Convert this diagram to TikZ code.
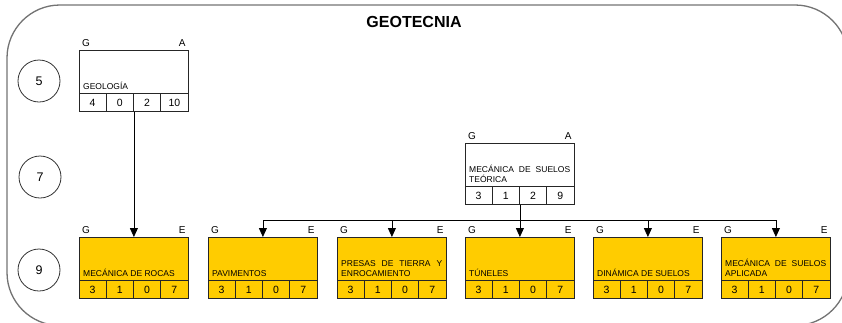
\documentclass[tikz,border=0pt]{standalone}
\usepackage{fontspec}
\setmainfont{Liberation Sans}
\usetikzlibrary{arrows.meta,calc}
\definecolor{cyellow}{HTML}{FFCC00}
\tikzset{
  frame/.style={draw=black!55, line width=1.3pt, rounded corners=53pt},
  boxline/.style={draw=black!85, line width=0.8pt},
  plainbox/.style={boxline, fill=white},
  yelbox/.style={boxline, fill=cyellow},
  letter/.style={font=\fontsize{10}{10}\selectfont, inner sep=0pt},
  num/.style={font=\fontsize{10.5}{12}\selectfont, inner sep=0pt},
  ctitle/.style={font=\fontsize{8.5}{10}\selectfont, inner sep=0pt},
  circ/.style={circle, draw=black!80, line width=0.8pt, minimum size=42pt, inner sep=0pt, font=\fontsize{12.5}{14}\selectfont},
  arr/.style={draw=black, line width=0.8pt, -{Triangle[length=9pt,width=8pt]}},
}
\newcommand\coursebox[6]{%
  \node[#4, anchor=north west, minimum width=109pt, minimum height=61pt, inner sep=0pt] (#1) at (#2,#3) {};
  \node[letter, anchor=base west] (#1-l) at ($(#1.north west)+(3,-4)$) {G};
  \node[letter, anchor=base east] (#1-r) at ($(#1.north east)+(-3,-4)$) {#5};
  \draw[boxline] ($(#1.south west)+(0,-18)$) -- ($(#1.south east)+(0,-18)$);
  \foreach \k in {1,2,3} {\draw[boxline] ($(#1.south west)+(\k*27.25,0)$) -- ++(0,-18);}
  \foreach \n [count=\k] in {#6} {\node[num] (#1-n\k) at ($(#1.south west)+(\k*27.25-13.625,-9)$) {\n};}
}
\begin{document}
\begin{tikzpicture}[x=1pt,y=-1pt]
\useasboundingbox (0,0) rectangle (842,322);
\begin{scope}
  \clip (0,0) rectangle (842,322);
  \draw[frame] (7,5) rectangle (848,325.5);
\end{scope}
\node[font=\bfseries\fontsize{16}{18}\selectfont] (title) at (414,22) {GEOTECNIA};
\node[circ] (c5) at (39,81) {5};
\node[circ] (c7) at (40,177) {7};
\node[circ] (c9) at (39,270) {9};
% semester 5
\coursebox{geo}{79}{50}{plainbox}{A}{4,0,2,10}
\node[ctitle, anchor=base west] (geo-t) at ($(geo.south west)+(4,-22)$) {GEOLOGÍA};
% semester 7
\coursebox{teo}{465}{143}{plainbox}{A}{3,1,2,9}
\node[ctitle, anchor=base west] (teo-t1) at ($(teo.south west)+(4,-32)$) {\makebox[101pt][s]{MECÁNICA DE SUELOS}};
\node[ctitle, anchor=base west] (teo-t2) at ($(teo.south west)+(4,-22)$) {TEÓRICA};
% semester 9
\coursebox{roc}{79}{237}{yelbox}{E}{3,1,0,7}
\node[ctitle, anchor=base west] (roc-t) at ($(roc.south west)+(4,-22)$) {MECÁNICA DE ROCAS};
\coursebox{pav}{208}{237}{yelbox}{E}{3,1,0,7}
\node[ctitle, anchor=base west] (pav-t) at ($(pav.south west)+(4,-22)$) {PAVIMENTOS};
\coursebox{pre}{337}{237}{yelbox}{E}{3,1,0,7}
\node[ctitle, anchor=base west] (pre-t1) at ($(pre.south west)+(4,-32)$) {\makebox[101pt][s]{PRESAS DE TIERRA Y}};
\node[ctitle, anchor=base west] (pre-t2) at ($(pre.south west)+(4,-22)$) {ENROCAMIENTO};
\coursebox{tun}{465}{237}{yelbox}{E}{3,1,0,7}
\node[ctitle, anchor=base west] (tun-t) at ($(tun.south west)+(4,-22)$) {TÚNELES};
\coursebox{din}{593}{237}{yelbox}{E}{3,1,0,7}
\node[ctitle, anchor=base west] (din-t) at ($(din.south west)+(4,-22)$) {DINÁMICA DE SUELOS};
\coursebox{apl}{721}{237}{yelbox}{E}{3,1,0,7}
\node[ctitle, anchor=base west] (apl-t1) at ($(apl.south west)+(4,-32)$) {\makebox[101pt][s]{MECÁNICA DE SUELOS}};
\node[ctitle, anchor=base west] (apl-t2) at ($(apl.south west)+(4,-22)$) {APLICADA};
% connectors
\draw[arr] (geo.south) -- (roc.north);
\coordinate (bus) at ($(teo.south)+(0,16)$);
\draw[arr] (teo.south) -- (tun.north);
\draw[arr] (bus) -| (pav.north);
\draw[arr] (bus) -| (pre.north);
\draw[arr] (bus) -| (din.north);
\draw[arr] (bus) -| (apl.north);
\end{tikzpicture}
\end{document}
